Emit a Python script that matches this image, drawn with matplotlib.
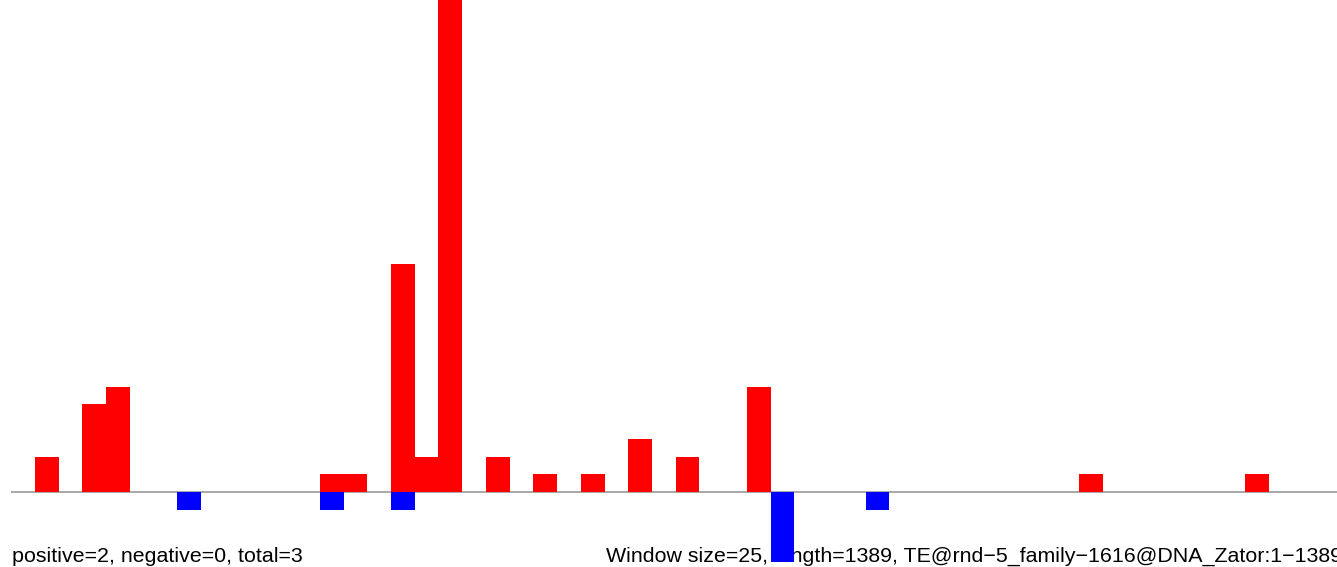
import matplotlib
matplotlib.use("Agg")
import matplotlib.pyplot as plt

# window index -> count (window size 25 bp)
pos_windows = [1, 3, 4, 13, 14, 16, 17, 18, 20, 22, 24, 26, 28, 31, 45, 52]
pos_counts = [2, 5, 6, 1, 1, 13, 2, 28, 2, 1, 1, 3, 2, 6, 1, 1]
neg_windows = [7, 13, 16, 32, 36]
neg_counts = [-1, -1, -1, -4, -1]

window = 25
length = 1389
left_text = "positive=2, negative=0, total=3"
right_text = "Window size=25, length=1389, TE@rnd\u22125_family\u22121616@DNA_Zator:1\u22121389"

W, H = 1337, 567
fig = plt.figure(figsize=(W / 100, H / 100), dpi=100)
ax = fig.add_axes([0, 0, 1, 1])

# pixel scale: 23.73 px per window, window 0 starts at x=11.3 px
px_per_bp = 23.73 / window
x_left = -11.3 / px_per_bp
x_right = (W - 11.3) / px_per_bp
# 17.57 px per count, baseline at y=492 px
px_per_unit = 17.57
y_top = 492 / px_per_unit
y_bot = -(H - 492) / px_per_unit

ax.bar([w * window for w in pos_windows], pos_counts, width=window, align="edge",
       color="#ff0000", linewidth=0, zorder=2)
ax.bar([w * window for w in neg_windows], neg_counts, width=window, align="edge",
       color="#0000ff", linewidth=0, zorder=2)
ax.hlines(0, 0, x_right + 10, color="#999999", linewidth=1.2, zorder=1)

ax.set_xlim(x_left, x_right)
ax.set_ylim(y_bot, y_top)
ax.axis("off")

# text sits under the bars, as in the original
ax.text(12 / W, 1 - 562 / H, left_text, transform=fig.transFigure, fontsize=15.4,
        family="Liberation Sans", ha="left", va="baseline", color="black", zorder=0.5)
ax.text(606 / W, 1 - 562 / H, right_text, transform=fig.transFigure, fontsize=15.4,
        family="Liberation Sans", ha="left", va="baseline", color="black", zorder=0.5)

fig.savefig("out.png", dpi=100)
